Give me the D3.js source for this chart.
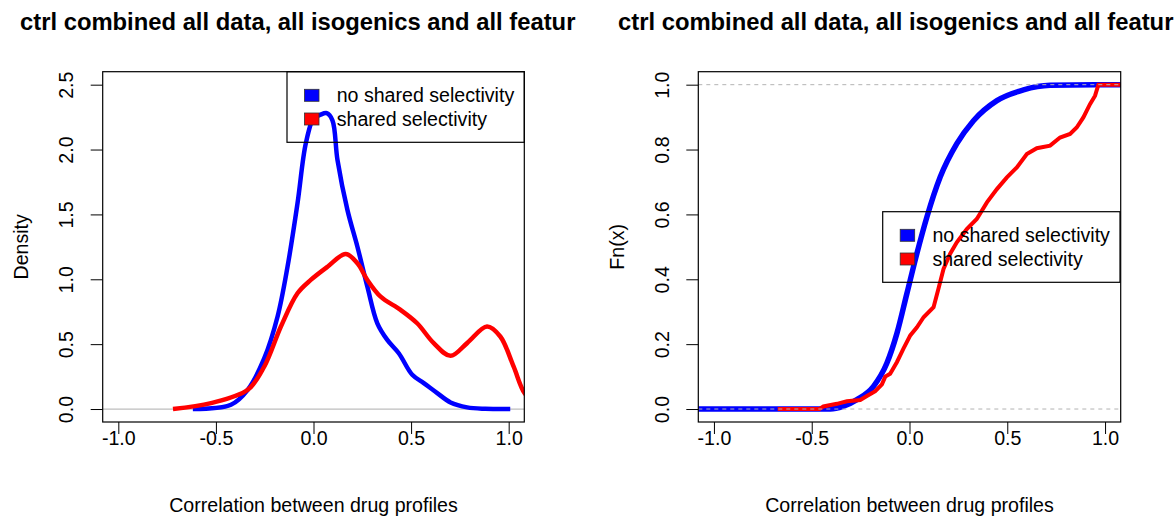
<!DOCTYPE html>
<html>
<head>
<meta charset="utf-8">
<script src="https://cdn.jsdelivr.net/npm/d3@7"></script>
<style>
  html, body { margin: 0; padding: 0; background: #fff; }
  svg { display: block; font-family: "Liberation Sans", Arial, Helvetica, sans-serif; }
</style>
</head>
<body>
<svg id="chart" width="1175" height="517"></svg>
<script>
// ---- text and ticks ----
const titleText = "ctrl combined all data, all isogenics and all featur";
const xLabel = "Correlation between drug profiles";
const densityLabel = "Density";
const ecdfLabel = "Fn(x)";
const seriesNames = ["no shared selectivity", "shared selectivity"];
const seriesColors = ["#0000ff", "#ff0000"];

const xTicks = [-1, -0.5, 0, 0.5, 1];
const xTickLabels = ["-1.0", "-0.5", "0.0", "0.5", "1.0"];
const densityTicks = [0, 0.5, 1, 1.5, 2, 2.5];
const densityTickLabels = ["0.0", "0.5", "1.0", "1.5", "2.0", "2.5"];
const ecdfTicks = [0, 0.2, 0.4, 0.6, 0.8, 1];
const ecdfTickLabels = ["0.0", "0.2", "0.4", "0.6", "0.8", "1.0"];

// ---- kernel density estimates ----
const densNoSharedX = [-0.618, -0.423, -0.337, -0.252, -0.184, -0.133, -0.082, -0.039, 0.003, 0.029, 0.068, 0.097, 0.123, 0.174, 0.225, 0.276, 0.327, 0.378, 0.437, 0.506, 0.565, 0.634, 0.702, 0.787, 0.88, 1.008];
const densNoSharedY = [0.0, 0.033, 0.148, 0.392, 0.713, 1.097, 1.585, 2.05, 2.25, 2.264, 2.28, 2.225, 1.918, 1.533, 1.251, 0.943, 0.661, 0.533, 0.43, 0.264, 0.2, 0.123, 0.051, 0.013, 0.002, 0.0];

const densSharedX = [-0.72, -0.525, -0.337, -0.252, -0.167, -0.082, -0.014, 0.072, 0.165, 0.225, 0.276, 0.344, 0.446, 0.531, 0.616, 0.702, 0.787, 0.889, 0.957, 1.025, 1.081, 1.15];
const densSharedY = [0.0, 0.046, 0.148, 0.328, 0.636, 0.892, 0.995, 1.097, 1.195, 1.123, 0.995, 0.866, 0.764, 0.661, 0.508, 0.41, 0.508, 0.636, 0.559, 0.328, 0.123, 0.02];

// ---- empirical cumulative distributions ----
const ecdfNoSharedX = [-1.2, -0.42, -0.405, -0.34, -0.269, -0.184, -0.116, -0.064, -0.013, 0.038, 0.089, 0.157, 0.242, 0.327, 0.447, 0.583, 0.719, 0.95, 1.2];
const ecdfNoSharedY = [0, 0, 0.0, 0.008, 0.029, 0.07, 0.141, 0.234, 0.357, 0.48, 0.592, 0.715, 0.818, 0.889, 0.951, 0.984, 0.998, 1.0, 1.0];

const ecdfSharedX = [-0.674, -0.46, -0.44, -0.371, -0.32, -0.252, -0.218, -0.175, -0.141, -0.124, -0.099, -0.064, -0.031, 0.004, 0.038, 0.072, 0.123, 0.148, 0.174, 0.208, 0.242, 0.293, 0.344, 0.396, 0.447, 0.498, 0.549, 0.6, 0.651, 0.719, 0.77, 0.821, 0.855, 0.889, 0.923, 0.949, 0.966, 1.2];
const ecdfSharedY = [0.0, 0.0, 0.008, 0.016, 0.024, 0.028, 0.04, 0.055, 0.076, 0.1, 0.109, 0.145, 0.186, 0.227, 0.252, 0.283, 0.314, 0.371, 0.432, 0.479, 0.514, 0.555, 0.586, 0.637, 0.678, 0.714, 0.745, 0.786, 0.804, 0.812, 0.837, 0.848, 0.868, 0.899, 0.94, 0.966, 1.0, 1.0];

// ---- layout ----
const FONT = 19.6;
const TITLE_FONT = 23.8;
const svg = d3.select("#chart");

const panels = [
  { left: 102.7, right: 524.3, top: 71.7, bottom: 422, titleX: 20, yDomain: [-0.1, 2.6],
    yTicks: densityTicks, yTickLabels: densityTickLabels, yLabel: densityLabel,
    legend: { x: 287, y: 71.7, w: 237.3, h: 70.6 } },
  { left: 698.3, right: 1120.7, top: 71.7, bottom: 422, titleX: 618, yDomain: [-0.04, 1.04],
    yTicks: ecdfTicks, yTickLabels: ecdfTickLabels, yLabel: ecdfLabel,
    legend: { x: 882.7, y: 211.7, w: 237.3, h: 70.6 } }
];

function pairs(xs, ys) { return xs.map((v, i) => [v, ys[i]]); }

panels.forEach((p, idx) => {
  const g = svg.append("g");
  const x = d3.scaleLinear().domain([-1.08, 1.08]).range([p.left, p.right]);
  const y = d3.scaleLinear().domain(p.yDomain).range([p.bottom, p.top]);

  const clipId = "clip" + idx;
  svg.append("clipPath").attr("id", clipId)
    .append("rect").attr("x", p.left).attr("y", p.top)
    .attr("width", p.right - p.left).attr("height", p.bottom - p.top);

  // title
  g.append("text").attr("x", p.titleX).attr("y", 30)
    .attr("font-size", TITLE_FONT).attr("font-weight", "bold")
    .text(titleText);

  // x axis ticks and labels
  const xAxis = d3.axisBottom(x).tickValues(xTicks).tickSize(12)
    .tickFormat((d, i) => xTickLabels[i]);
  const xg = g.append("g").attr("transform", `translate(0,${p.bottom})`).call(xAxis);
  xg.select(".domain").remove();
  xg.selectAll("line").attr("stroke", "#000");
  xg.selectAll("text").attr("font-size", FONT).attr("font-family", null)
    .attr("fill", "#000").attr("y", 0).attr("dy", null)
    .attr("transform", "translate(0,22.5)");

  // y axis ticks and labels (labels run along the axis)
  const yAxis = d3.axisLeft(y).tickValues(p.yTicks).tickSize(12)
    .tickFormat((d, i) => p.yTickLabels[i]);
  const yg = g.append("g").attr("transform", `translate(${p.left},0)`).call(yAxis);
  yg.select(".domain").remove();
  yg.selectAll("line").attr("stroke", "#000");
  yg.selectAll(".tick text").attr("font-size", FONT).attr("font-family", null)
    .attr("fill", "#000").attr("x", 0).attr("dy", null).attr("y", 0)
    .attr("text-anchor", "middle")
    .attr("transform", "translate(-29.4,0) rotate(-90)");

  // axis titles
  g.append("text").attr("x", (p.left + p.right) / 2).attr("y", 512)
    .attr("text-anchor", "middle").attr("font-size", FONT).text(xLabel);
  g.append("text")
    .attr("transform", `translate(${p.left - 74.5},${(p.top + p.bottom) / 2}) rotate(-90)`)
    .attr("text-anchor", "middle").attr("font-size", FONT).text(p.yLabel);

  const plotArea = g.append("g").attr("clip-path", `url(#${clipId})`);

  if (idx === 0) {
    // reference line at zero density
    plotArea.append("line").attr("x1", p.left).attr("x2", p.right)
      .attr("y1", y(0)).attr("y2", y(0))
      .attr("stroke", "#bebebe").attr("stroke-width", 1.2);
    const line = d3.line().x(d => x(d[0])).y(d => y(d[1]))
      .curve(d3.curveCatmullRom.alpha(0.5));
    plotArea.append("path").datum(pairs(densNoSharedX, densNoSharedY))
      .attr("d", line).attr("fill", "none").attr("stroke", seriesColors[0])
      .attr("stroke-width", 4.5).attr("stroke-linejoin", "round");
    plotArea.append("path").datum(pairs(densSharedX, densSharedY))
      .attr("d", line).attr("fill", "none").attr("stroke", seriesColors[1])
      .attr("stroke-width", 4.5).attr("stroke-linejoin", "round");
  } else {
    const smooth = d3.line().x(d => x(d[0])).y(d => y(d[1])).curve(d3.curveMonotoneX);
    const jagged = d3.line().x(d => x(d[0])).y(d => y(d[1])).curve(d3.curveLinear);
    plotArea.append("path").datum(pairs(ecdfNoSharedX, ecdfNoSharedY))
      .attr("d", smooth).attr("fill", "none").attr("stroke", seriesColors[0])
      .attr("stroke-width", 5.5);
    plotArea.append("path").datum(pairs(ecdfSharedX, ecdfSharedY))
      .attr("d", jagged).attr("fill", "none").attr("stroke", seriesColors[1])
      .attr("stroke-width", 4).attr("stroke-linejoin", "miter");
    // dashed guides at 0 and 1
    [0, 1].forEach(v => {
      plotArea.append("line").attr("x1", p.left).attr("x2", p.right)
        .attr("y1", y(v)).attr("y2", y(v))
        .attr("stroke", "#b3b3b3").attr("stroke-width", 1)
        .attr("stroke-dasharray", "4,4");
    });
  }

  // plot frame
  g.append("rect").attr("x", p.left).attr("y", p.top)
    .attr("width", p.right - p.left).attr("height", p.bottom - p.top)
    .attr("fill", "none").attr("stroke", "#000").attr("stroke-width", 1.2);

  // legend
  const L = p.legend;
  const lg = g.append("g");
  lg.append("rect").attr("x", L.x).attr("y", L.y).attr("width", L.w).attr("height", L.h)
    .attr("fill", "none").attr("stroke", "#000").attr("stroke-width", 1.2);
  seriesNames.forEach((name, i) => {
    const cy = L.y + 23.6 + i * 23.7;
    lg.append("rect").attr("x", L.x + 17.5).attr("y", cy - 6).attr("width", 14.5).attr("height", 12)
      .attr("fill", seriesColors[i]).attr("stroke", "#333").attr("stroke-width", 0.8);
    lg.append("text").attr("x", L.x + 49.7).attr("y", cy + 7)
      .attr("font-size", FONT).text(name);
  });
});
</script>
</body>
</html>
